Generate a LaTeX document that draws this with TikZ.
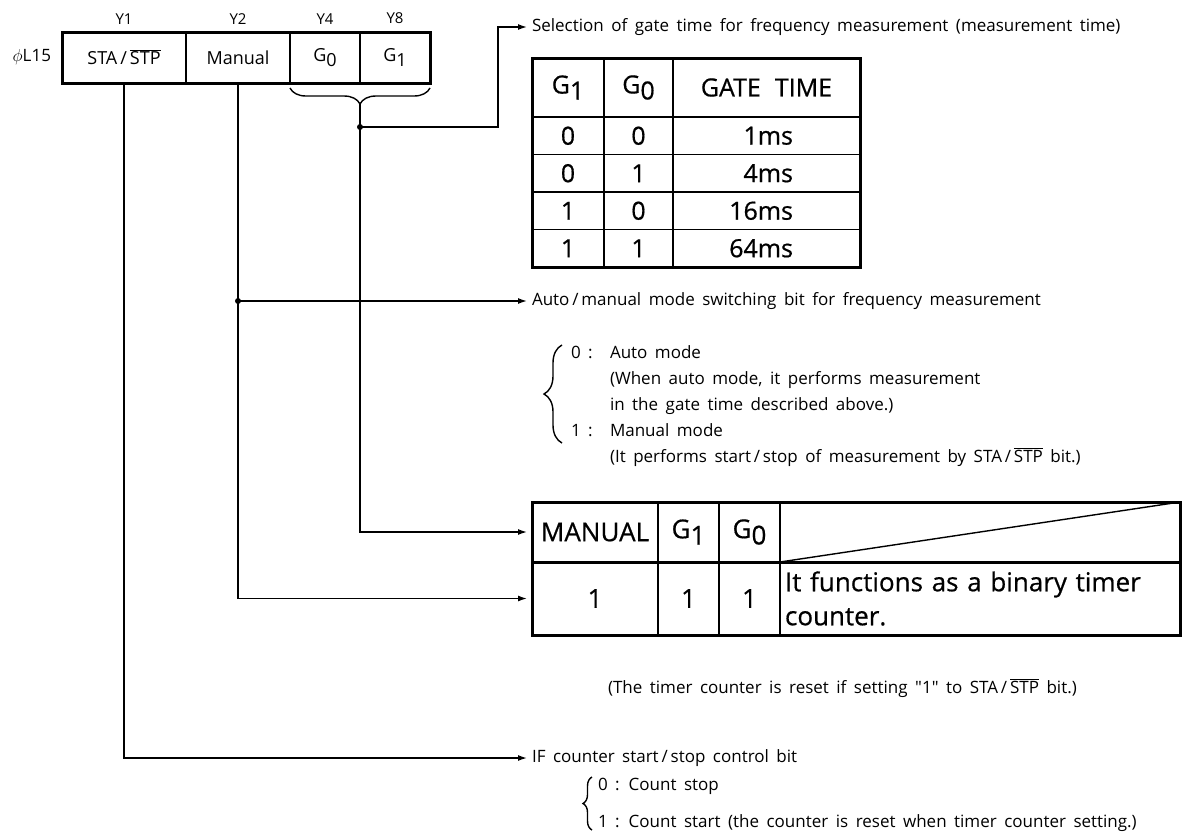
\documentclass[tikz,border=0pt]{standalone}
\usepackage{fontspec}
\setmainfont{Open Sans}[WordSpace=1.7]
\newfontfamily\cellfont{Open Sans}[WordSpace=1.7,FakeBold=0.6]
\newfontfamily\qfont{Open Sans}
\usepackage{graphicx}
\usetikzlibrary{positioning,arrows.meta,decorations.pathreplacing}

\newcommand{\lowidx}[1]{\raisebox{-0.45ex}{#1}}
\newcommand{\stpbar}{$\overline{\mbox{STP}}$}
\newcommand{\gatems}[1]{\makebox[53pt][r]{#1}}

\begin{document}
\begin{tikzpicture}[x=1pt,y=-1pt,
  every node/.style={inner sep=0pt,outer sep=0pt},
  reg/.style={draw,line width=2.5pt,minimum height=51pt,font=\fontsize{18}{21}\selectfont},
  tag/.style={font=\fontsize{15}{18}\selectfont},
  gcell/.style={draw,line width=1.5pt,minimum height=37.5pt,font=\cellfont\fontsize{25}{29}\selectfont},
  mcell/.style={draw,line width=1.5pt,font=\cellfont\fontsize{26}{34}\selectfont},
  desc/.style={anchor=west,font=\fontsize{17}{20}\selectfont},
  con/.style={line width=1.4pt},
  arr/.style={con,-{Latex[length=9pt,width=6pt]},shorten >=5pt},
  brc/.style={con,decorate}]

\useasboundingbox (0,0) rectangle (1188,836);

% register phi L15
\node[reg,minimum width=124pt] (sta) at (124,57.5) {STA\,/\,\stpbar};
\node[reg,minimum width=104pt,right=0pt of sta] (man) {Manual};
\node[reg,minimum width=70pt,right=0pt of man] (g0) {G\lowidx{0}};
\node[reg,minimum width=70pt,right=0pt of g0] (g1) {G\lowidx{1}};
\draw[line width=3pt] (sta.north west) rectangle (g1.south east);
\node[tag,above=8pt of sta] (y1) {Y1};
\node[tag,above=8pt of man] (y2) {Y2};
\node[tag,above=8pt of g0] (y4) {Y4};
\node[tag,above=8pt of g1] (y8) {Y8};
\node[tag,font=\fontsize{17}{20}\selectfont,left=11pt of sta] (port) {$\phi$L15};

% gate time table
\node[gcell,minimum width=72pt,minimum height=59pt] (th1) at (568,87.5) {G\lowidx{1}};
\node[gcell,minimum width=69pt,minimum height=59pt,right=0pt of th1] (th0) {G\lowidx{0}};
\node[gcell,minimum width=187pt,minimum height=59pt,right=0pt of th0] (tht) {GATE\hspace{0.12em} TIME};
\node[gcell,minimum width=72pt,below=0pt of th1] (ta1) {0};
\node[gcell,minimum width=69pt,right=0pt of ta1] (ta0) {0};
\node[gcell,minimum width=187pt,right=0pt of ta0] (tat) {\gatems{1ms}};
\node[gcell,minimum width=72pt,below=0pt of ta1] (tb1) {0};
\node[gcell,minimum width=69pt,right=0pt of tb1] (tb0) {1};
\node[gcell,minimum width=187pt,right=0pt of tb0] (tbt) {\gatems{4ms}};
\node[gcell,minimum width=72pt,below=0pt of tb1] (tc1) {1};
\node[gcell,minimum width=69pt,right=0pt of tc1] (tc0) {0};
\node[gcell,minimum width=187pt,right=0pt of tc0] (tct) {\gatems{16ms}};
\node[gcell,minimum width=72pt,below=0pt of tc1] (td1) {1};
\node[gcell,minimum width=69pt,right=0pt of td1] (td0) {1};
\node[gcell,minimum width=187pt,right=0pt of td0] (tdt) {\gatems{64ms}};
\draw[line width=3pt] (th1.north west) rectangle (tdt.south east);

% binary timer table
\node[mcell,minimum width=126pt,minimum height=60pt] (lman) at (595,532) {MANUAL};
\node[mcell,minimum width=61pt,minimum height=60pt,right=0pt of lman] (lg1) {G\lowidx{1}};
\node[mcell,minimum width=61pt,minimum height=60pt,right=0pt of lg1] (lg0) {G\lowidx{0}};
\node[mcell,minimum width=400pt,minimum height=60pt,right=0pt of lg0] (lblank) {};
\node[mcell,minimum width=126pt,minimum height=73pt,below=0pt of lman] (lone) {1};
\node[mcell,minimum width=61pt,minimum height=73pt,right=0pt of lone] (lone1) {1};
\node[mcell,minimum width=61pt,minimum height=73pt,right=0pt of lone1] (lone0) {1};
\node[mcell,minimum width=400pt,minimum height=73pt,text width=390pt,align=left,right=0pt of lone0] (ldesc) {It functions as a binary timer\\counter.};
\draw[con] (lblank.south west) -- (lblank.north east);
\draw[line width=3pt] (lman.south west) -- (lblank.south east);
\draw[line width=3pt] (lman.north west) rectangle (ldesc.south east);

% texts
\node[desc] (selt) at (532,27) {Selection of gate time for frequency measurement (measurement time)};
\node[desc] (autot) at (532,301) {Auto\,/\,manual mode switching bit for frequency measurement};
\node[desc,font=\fontsize{17}{26}\selectfont] (alist) at (571,405) {\begin{tabular}{@{}p{39pt}@{}l@{}}
0 : & Auto mode\\
 & (When auto mode, it performs measurement\\
 & in the gate time described above.)\\
1 : & Manual mode\\
 & (It performs start\,/\,stop of measurement by STA\,/\,\stpbar{} bit.)
\end{tabular}};
\node[desc] (resett) at (608,688) {(The timer counter is reset if setting {\qfont"1"} to STA\,/\,\stpbar{} bit.)};
\node[desc] (ift) at (532,758) {IF counter start\,/\,stop control bit};
\node[desc,font=\fontsize{17}{37}\selectfont] (clist) at (598,801.5) {\begin{tabular}{@{}l@{}}
0 : Count stop\\
1 : Count start (the counter is reset when timer counter setting.)
\end{tabular}};
\draw[brc,decoration={brace,amplitude=18pt}] (562,443) -- (562,345);
\draw[brc,decoration={brace,amplitude=9pt}] (592,830) -- (592,777);

% connectors
\draw[brc,decoration={brace,mirror,amplitude=16pt}] ([yshift=-5pt]g0.south west) -- ([yshift=-5pt]g1.south east);
\coordinate (gtip) at ([yshift=-21pt]g0.south east);
\coordinate (gdot) at ([yshift=-44pt]g0.south east);
\draw[con] (gtip) -- (gdot);
\draw[arr] (gdot) -- ++(138,0) |- (selt.west);
\draw[arr] (gdot) |- (lman.west);
\fill (gdot) circle (3pt);
\coordinate (mdot) at (man.south |- autot.west);
\draw[arr] (man.south) |- (lone.west);
\draw[arr] (mdot) -- (autot.west);
\fill (mdot) circle (3pt);
\draw[arr] (sta.south) |- (ift.west);
\end{tikzpicture}
\end{document}
